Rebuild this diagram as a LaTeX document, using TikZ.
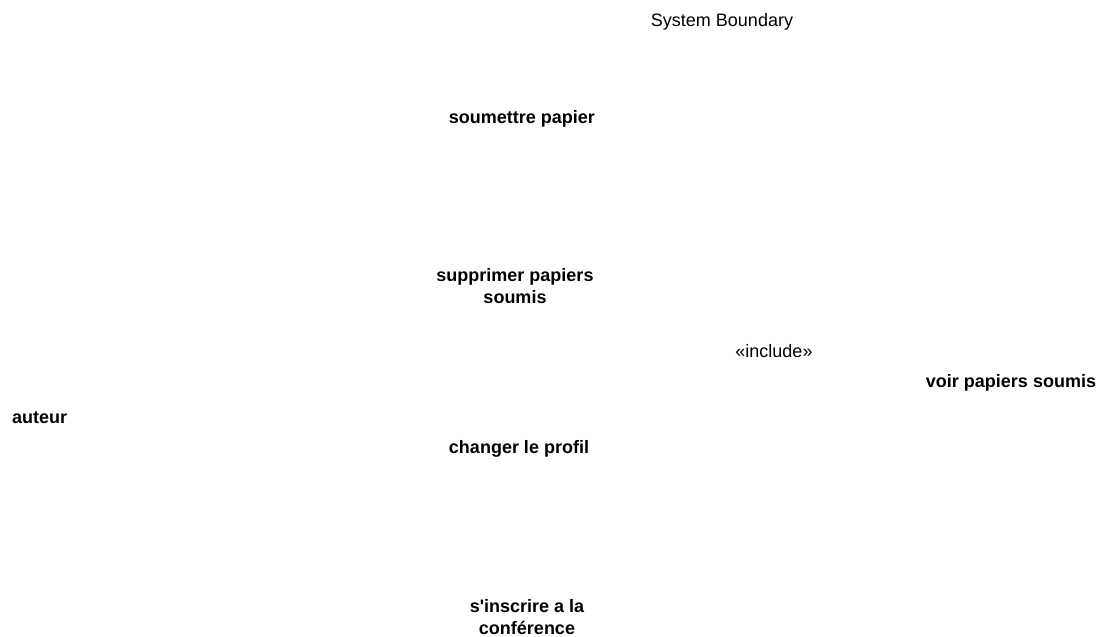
\documentclass[tikz,border=0pt]{standalone}
\usepackage{fontspec}
\setmainfont{Liberation Sans}

\begin{document}
\begin{tikzpicture}
        [x=1pt,y=-1pt,
        usecase/.style={font=\fontsize{18}{22}\selectfont\bfseries,inner sep=0pt,align=center,anchor=base},
        actor/.style={font=\fontsize{18}{22}\selectfont\bfseries,inner sep=0pt,anchor=base west},
        boundary/.style={font=\fontsize{18}{22}\selectfont,inner sep=0pt,anchor=base},
        stereo/.style={font=\fontsize{18}{22}\selectfont,inner sep=0pt,anchor=base}]

\useasboundingbox (0,0) rectangle (1104,637);

% system
\node[boundary] at (722,27) (sysboundary) {System Boundary};

% actor
\node[actor] at (12,423) (auteur) {auteur};

% use cases
\node[usecase] at (522,123) (soumettre) {soumettre papier};

\node[usecase] at (515,303) (supprimer) {supprimer papiers\\soumis};

\node[usecase] at (519,453) (profil) {changer le profil};

\node[usecase] at (527,634) (inscrire) {s\textquotesingle inscrire a la\\conf\'erence};

\node[usecase] at (1011,387) (voir) {voir papiers soumis};

% relations
\node[stereo] at (774,357) (include) {«include»};

\end{tikzpicture}
\end{document}
